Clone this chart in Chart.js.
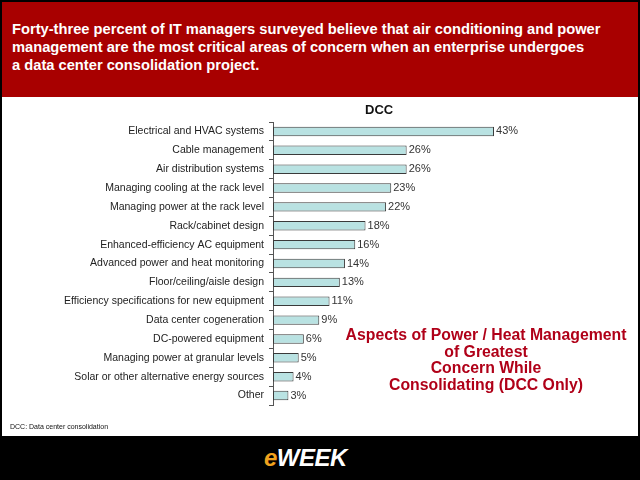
<!DOCTYPE html>
<html>
<head>
<meta charset="utf-8">
<script src="https://cdn.jsdelivr.net/npm/chart.js@4/dist/chart.umd.min.js"></script>
<style>
  html, body { margin: 0; padding: 0; background: #000; }
  #page { position: relative; width: 640px; height: 480px; background: #000; overflow: hidden; font-family: "Liberation Sans", Arial, sans-serif; }
  #header { position: absolute; left: 2px; top: 2px; width: 636px; height: 95px; background: #a80000; }
  #header p { position: absolute; left: 10px; top: 18px; margin: 0; color: #fff; font-weight: bold; font-size: 14.7px; line-height: 18px; white-space: nowrap; }
  #white { position: absolute; left: 2px; top: 97px; width: 636px; height: 339px; background: #fff; }
  #dcc { position: absolute; left: 365px; top: 102px; font-weight: bold; font-size: 13px; color: #111; }
  #note { position: absolute; left: 330px; width: 312px; top: 327px; text-align: center; color: #b00018; font-weight: bold; font-size: 15.8px; line-height: 16.5px; white-space: nowrap; }
  #foot { position: absolute; left: 10px; top: 423px; font-size: 7px; color: #111; }
  #footer { position: absolute; left: 2px; top: 437px; width: 636px; height: 41px; background: #000; }
  #logo { position: absolute; left: 262px; top: 9px; font-family: "Liberation Sans Narrow", "Liberation Sans", sans-serif; font-weight: bold; font-style: italic; font-size: 24px; line-height: 24px; color: #fff; letter-spacing: -0.5px; }
  #logo .e { color: #f0a21e; }
  #c { position: absolute; left: 0; top: 97px; }
</style>
</head>
<body>
<div id="page">
  <div id="header"><p>Forty-three percent of IT managers surveyed believe that air conditioning and power<br>management are the most critical areas of concern when an enterprise undergoes<br>a data center consolidation project.</p></div>
  <div id="white"></div>
  <canvas id="c" width="640" height="340"></canvas>
  <div id="dcc">DCC</div>
  <div id="note">Aspects of Power / Heat Management<br>of Greatest<br>Concern While<br>Consolidating (DCC Only)</div>
  <div id="foot">DCC: Data center consolidation</div>
  <div id="footer"><div id="logo"><span class="e">e</span>WEEK</div></div>
</div>
<script>
const categories = [
  "Electrical and HVAC systems",
  "Cable management",
  "Air distribution systems",
  "Managing cooling at the rack level",
  "Managing power at the rack level",
  "Rack/cabinet design",
  "Enhanced-efficiency AC equipment",
  "Advanced power and heat monitoring",
  "Floor/ceiling/aisle design",
  "Efficiency specifications for new equipment",
  "Data center cogeneration",
  "DC-powered equipment",
  "Managing power at granular levels",
  "Solar or other alternative energy sources",
  "Other"
];
const dccValues = [43, 26, 26, 23, 22, 18, 16, 14, 13, 11, 9, 6, 5, 4, 3];

const valueLabels = {
  id: 'valueLabels',
  afterDatasetsDraw(chart) {
    const ctx = chart.ctx;
    const meta = chart.getDatasetMeta(0);
    ctx.save();
    ctx.font = '11px "Liberation Sans", Arial, sans-serif';
    ctx.fillStyle = '#333';
    ctx.textAlign = 'left';
    ctx.textBaseline = 'middle';
    meta.data.forEach((bar, i) => {
      ctx.fillText(dccValues[i] + '%', bar.x + 2, bar.y);
    });
    ctx.restore();
  }
};

new Chart(document.getElementById('c'), {
  type: 'bar',
  data: {
    labels: categories,
    datasets: [{
      data: dccValues,
      backgroundColor: '#b9e2e2',
      borderColor: '#3a3a3a',
      borderWidth: 1,
      borderSkipped: false,
      barPercentage: 0.5,
      categoryPercentage: 1.0
    }]
  },
  options: {
    indexAxis: 'y',
    responsive: false,
    animation: false,
    layout: { padding: { top: 25, bottom: 32, left: 0, right: 110 } },
    plugins: { legend: { display: false }, title: { display: false }, tooltip: { enabled: false } },
    scales: {
      x: { display: false, min: 0, max: 50 },
      y: {
        afterFit(scale) { scale.width = 273; },
        border: { display: true, color: '#555', width: 1 },
        grid: { display: true, drawOnChartArea: false, drawTicks: true, tickLength: 4, color: '#555', offset: true },
        ticks: { color: '#222', padding: 5, font: { family: '"Liberation Sans", Arial, sans-serif', size: 10.5 } }
      }
    }
  },
  plugins: [valueLabels]
});
</script>
</body>
</html>
